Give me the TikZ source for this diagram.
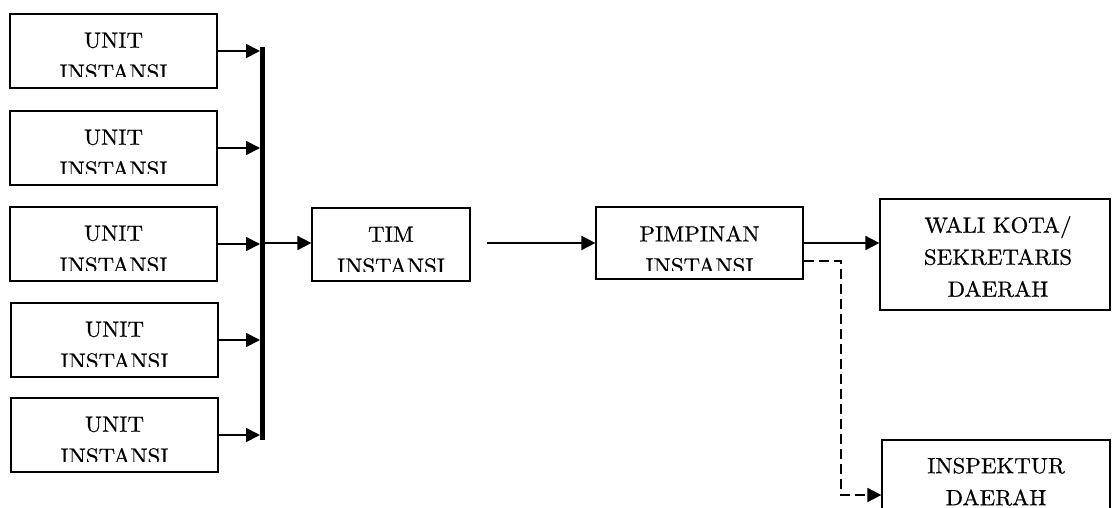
\documentclass[tikz,border=0pt]{standalone}
\usepackage{fontspec}
\newfontfamily\boxfont{lmroman10-regular.otf}[FakeStretch=1.04, FakeBold=0.6]
\usetikzlibrary{arrows.meta}

\begin{document}
\begin{tikzpicture}[x=1pt, y=-1pt,
  box/.style={draw, line width=1.2pt, rectangle, inner sep=0pt},
  label/.style={align=center, anchor=north, inner sep=0pt,
    font=\boxfont\fontsize{22}{32}\selectfont},
  flow/.style={line width=1.7pt, -{Triangle[length=14pt,width=14pt]}},
  dflow/.style={line width=1.7pt, dash pattern=on 10pt off 5pt,
    -{Triangle[length=14pt,width=14pt]}},
  bus/.style={line width=5pt}]

\useasboundingbox (0,0) rectangle (1112,508);
\clip (0,0) rectangle (1112,508);

% five unit boxes feeding the collecting bar
\foreach \i/\cx/\cy in {1/113.5/51, 2/113.5/148, 3/113.5/244, 4/114.5/340, 5/114.5/435} {
  \node[box, minimum width=207pt, minimum height=74pt] (u\i) at (\cx,\cy) {};
  \begin{scope}
    \clip (\cx-103.5,\cy-37) rectangle (\cx+103.5,\cy+26);
    \node[label] (ut\i) at (\cx,\cy-18.5) {UNIT\\INSTANSI};
  \end{scope}
}

% vertical collecting bar
\coordinate (bustop) at (262.5,47);
\coordinate (busbot) at (262.5,440);
\draw[bus] (bustop) -- (busbot);

\foreach \i in {1,...,5}
  \draw[flow] (u\i.east) -- ([xshift=-2.5pt]u\i.east -| busbot);

% team box
\node[box, minimum width=158pt, minimum height=73pt] (tim) at (391,244.5) {};
\begin{scope}
  \clip (312,208) rectangle (470,271);
  \node[label] (timt) at (391,226.5) {TIM\\INSTANSI};
\end{scope}

% head of agency
\node[box, minimum width=207pt, minimum height=72pt] (pim) at (699.5,243) {};
\begin{scope}
  \clip (596,207) rectangle (803,270);
  \node[label] (pimt) at (699.5,225.5) {PIMPINAN\\INSTANSI};
\end{scope}

% mayor / regional secretary
\node[box, minimum width=230pt, minimum height=111pt] (wali) at (995,254.5) {};
\node[label] (walit) at (998,216) {WALI KOTA/\\SEKRETARIS\\DAERAH};

% regional inspector
\node[box, minimum width=228pt, minimum height=110pt] (insp) at (996,495) {};
\node[label] (inspt) at (996,457.5) {INSPEKTUR\\DAERAH};

% connectors
\coordinate (busout) at (265,243);
\draw[flow] (busout) -- (busout -| tim.west);
\draw[flow] ([xshift=16pt]tim.east |- pim.west) -- (pim.west);
\draw[flow] (pim.east) -- (pim.east -| wali.west);
\coordinate (bend) at (841,495);
\draw[dflow] ([yshift=-18pt]pim.east) -| (bend) -- (insp.west);

\end{tikzpicture}
\end{document}
